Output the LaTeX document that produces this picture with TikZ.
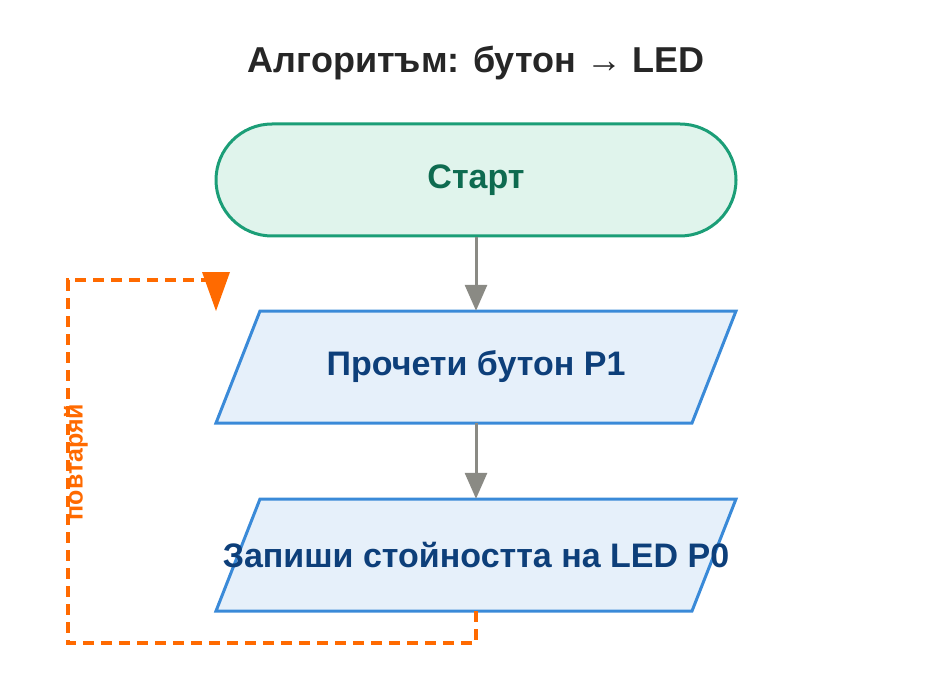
\documentclass[tikz,border=0pt]{standalone}
\usepackage{fontspec}
\setmainfont{Liberation Sans}
\usetikzlibrary{arrows.meta}
\definecolor{tgreen}{HTML}{1B9E77}
\definecolor{tgreenf}{HTML}{E0F4EC}
\definecolor{tgreent}{HTML}{0E6B50}
\definecolor{pblue}{HTML}{3A8AD8}
\definecolor{pbluef}{HTML}{E6F0FA}
\definecolor{pbluet}{HTML}{0D3F7A}
\definecolor{arr}{HTML}{8A8A84}
\definecolor{loopc}{HTML}{FF6A00}
\begin{document}
\begin{tikzpicture}[x=1pt,y=-1pt,
  txt/.style={font=\bfseries\fontsize{34}{38}\selectfont},
  flow/.style={draw=arr,line width=3pt,-{Triangle[length=26pt,width=22pt]}},
  para/.style={draw=pblue,fill=pbluef,line width=3pt,line join=miter},
  loopl/.style={draw=loopc,line width=3.5pt,dash pattern=on 11pt off 7pt}]
\useasboundingbox (0,0) rectangle (952,676);
\node[font=\bfseries\fontsize{36}{40}\selectfont,text=black!85] (title) at (476,63) {Алгоритъм: бутон → LED};
\node[draw=tgreen,fill=tgreenf,line width=3pt,rounded corners=56pt,minimum width=520pt,minimum height=112pt,txt,text=tgreent] (start) at (476,180) {Старт};
\draw[para] (260,311) -- (736,311) -- (692,423) -- (216,423) -- cycle;
\node[txt,text=pbluet,minimum width=476pt,minimum height=112pt] (p1) at (476,367) {Прочети бутон P1};
\draw[para] (260,499) -- (736,499) -- (692,611) -- (216,611) -- cycle;
\node[txt,text=pbluet,minimum width=476pt,minimum height=112pt] (p2) at (476,555) {Запиши стойността на LED P0};
\draw[flow] (start.south) -- (p1.north);
\draw[flow] (p1.south) -- (p2.north);
\draw[loopl] (p2.south) -- (476,643) -- (68,643) -- (68,280) -- (216,280) -- (216,296);
\fill[loopc] (202,272) -- (230,272) -- (216,311) -- cycle;
\node[rotate=90,font=\bfseries\fontsize{25}{28}\selectfont,text=loopc] (lbl) at (76,462) {повтаряй};
\end{tikzpicture}
\end{document}
